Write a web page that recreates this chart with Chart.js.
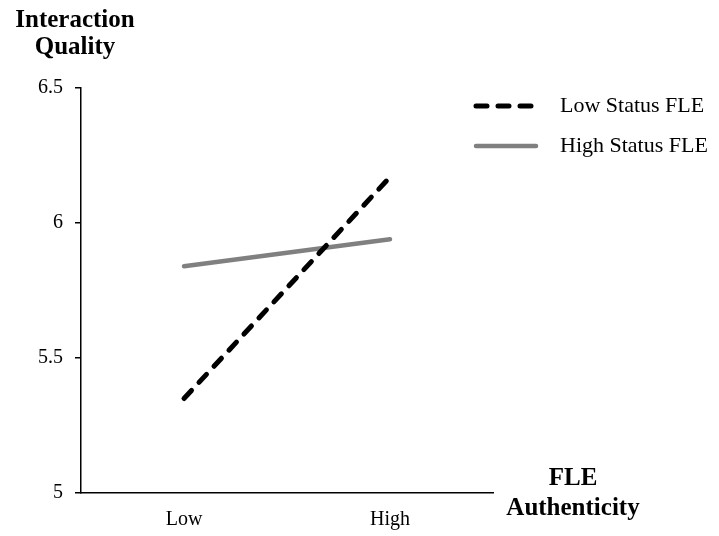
<!DOCTYPE html>
<html>
<head>
<meta charset="utf-8">
<script src="https://cdn.jsdelivr.net/npm/chart.js@4.4.1/dist/chart.umd.min.js"></script>
<style>
  body { margin: 0; background: #fff; }
  #wrap { width: 719px; height: 536px; }
</style>
</head>
<body>
<div id="wrap"><canvas id="chart" width="719" height="536"></canvas></div>
<script>
// values
const categories = ['Low', 'High'];
const lowStatus = [5.35, 6.17];
const highStatus = [5.84, 5.94];
const seriesNames = ['Low Status FLE', 'High Status FLE'];
const yTitle = ['Interaction', 'Quality'];
const xTitle = ['FLE', 'Authenticity'];

const serif = '"Liberation Serif", "Times New Roman", serif';

// legend + axis titles drawn by hand, Excel style
const extras = {
  id: 'extras',
  afterDraw(chart) {
    const ctx = chart.ctx;
    const area = chart.chartArea;
    ctx.save();

    // legend
    chart.data.datasets.forEach((ds, i) => {
      const y = 106 + i * 40;
      ctx.beginPath();
      ctx.strokeStyle = ds.borderColor;
      ctx.lineWidth = ds.borderWidth;
      ctx.lineCap = 'round';
      ctx.setLineDash(ds.borderDash || []);
      ctx.moveTo(476, y);
      ctx.lineTo(536, y);
      ctx.stroke();
      ctx.setLineDash([]);
      ctx.fillStyle = '#000';
      ctx.font = '22px ' + serif;
      ctx.textAlign = 'left';
      ctx.textBaseline = 'middle';
      ctx.fillText(ds.label, 560, y);
    });

    // axis titles
    ctx.font = 'bold 25px ' + serif;
    ctx.textAlign = 'center';
    ctx.textBaseline = 'middle';
    ctx.fillStyle = '#000';
    ctx.fillText(yTitle[0], 75, 21);
    ctx.fillText(yTitle[1], 75, 48);
    ctx.fillText(xTitle[0], area.right + 80, 479);
    ctx.fillText(xTitle[1], area.right + 80, 509);
    ctx.restore();
  }
};

new Chart(document.getElementById('chart').getContext('2d'), {
  type: 'line',
  data: {
    labels: categories,
    datasets: [{
      label: seriesNames[0],
      data: lowStatus,
      borderColor: '#000000',
      borderWidth: 5,
      borderDash: [11, 11],
      borderCapStyle: 'round',
      pointRadius: 0,
      fill: false
    }, {
      label: seriesNames[1],
      data: highStatus,
      borderColor: '#808080',
      borderWidth: 4.5,
      borderCapStyle: 'round',
      pointRadius: 0,
      fill: false
    }]
  },
  options: {
    responsive: false,
    animation: false,
    layout: { padding: { top: 88, right: 226, left: 0, bottom: 0 } },
    plugins: {
      legend: { display: false },
      tooltip: { enabled: false }
    },
    scales: {
      x: {
        offset: true,
        afterFit(s) { s.height = 43; },
        grid: { display: false, drawTicks: false },
        border: { display: true, color: '#000', width: 1.5 },
        ticks: { color: '#000', font: { family: serif, size: 20 }, padding: 15 }
      },
      y: {
        min: 5,
        max: 6.5,
        afterFit(s) { s.width = 81; },
        grid: { drawOnChartArea: false, drawTicks: true, tickLength: 6, color: '#000', lineWidth: 1.5 },
        border: { display: true, color: '#000', width: 1.5 },
        ticks: {
          stepSize: 0.5,
          color: '#000',
          font: { family: serif, size: 20 },
          padding: 12,
          callback: v => String(v)
        }
      }
    }
  },
  plugins: [extras]
});
</script>
</body>
</html>
